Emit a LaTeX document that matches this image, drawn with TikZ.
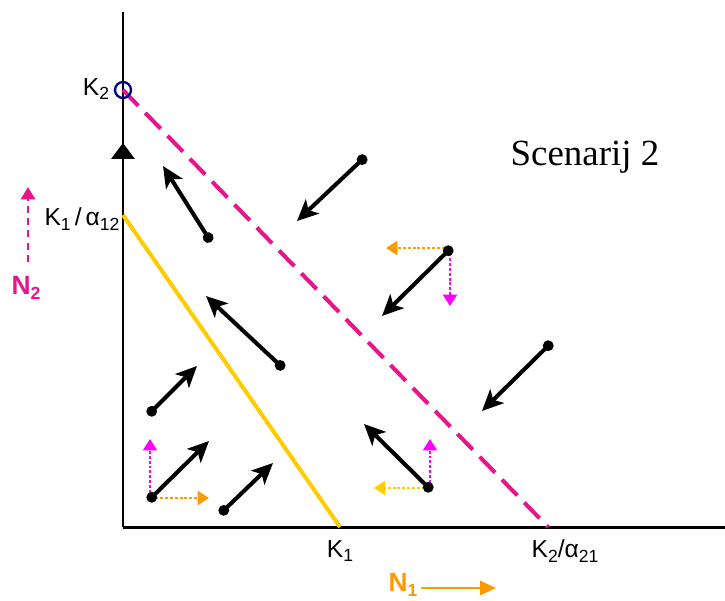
\documentclass[tikz,border=0pt]{standalone}
\usepackage{fontspec}
\setmainfont{Liberation Serif}
\setsansfont{Liberation Sans}
\usetikzlibrary{arrows.meta}
\definecolor{isoTwo}{RGB}{232, 20, 140}
\definecolor{isoOne}{RGB}{255, 204, 0}
\definecolor{dirOne}{RGB}{255, 153, 0}
\definecolor{dirTwo}{RGB}{255, 0, 255}
\definecolor{eqRing}{RGB}{0, 0, 140}
\newcommand{\subl}[2]{#1\raisebox{-0.35ex}{\fontsize{10}{10}\selectfont #2}}
\tikzset{
  axisline/.style={line width=1.7pt},
  flow/.style={line width=2.3pt, {Circle[length=6pt]}-{Stealth[length=12pt,width=11pt,inset=3pt]}},
  comp/.style={line width=1.3pt, dash pattern=on 1.7pt off 1.1pt, -{Triangle[length=6.5pt,width=8pt]}},
  lab/.style={font=\sffamily\fontsize{14}{14}\selectfont}
}

\begin{document}
\begin{tikzpicture}[x=0.02cm, y=-0.02cm]
  \useasboundingbox (0,0) rectangle (725,600);

  \coordinate (origin) at (123,527);
  \coordinate (ytop) at (123,12);
  \coordinate (ymid) at (123,143);
  \coordinate (xend) at (725,527);
  \coordinate (K2pt) at (123,90);
  \coordinate (K1apt) at (123,215);
  \coordinate (K1pt) at (340,527);
  \coordinate (K2apt) at (548,527);

  % axes
  \draw[axisline] (origin) -- (ytop);
  \draw[axisline] (origin) -- (xend);
  \draw[axisline, -{Triangle[length=9pt,width=13pt]}] (origin) -- (ymid);

  % isoclines
  \draw[isoOne, line width=2.3pt] (K1apt) -- (K1pt);
  \draw[isoTwo, line width=2.3pt, dash pattern=on 12.5pt off 5.7pt] (K2pt) -- (K2apt);
  \node[draw=eqRing, circle, line width=1.3pt, minimum size=0.32cm, inner sep=0pt] (eqring) at (K2pt) {};

  % components
  \coordinate (c3o) at (450,248); \coordinate (c3l) at (386,248); \coordinate (c3d) at (450,306);
  \coordinate (c7o) at (150,498); \coordinate (c7u) at (150,439); \coordinate (c7r) at (209,498);
  \coordinate (c9o) at (430,488); \coordinate (c9l) at (374,488); \coordinate (c9u) at (430,439);
  \draw[comp, dirOne] (c3o) -- (c3l);
  \draw[comp, dirTwo] (c3o) -- (c3d);
  \draw[comp, dirTwo] (c7o) -- (c7u);
  \draw[comp, dirOne] (c7o) -- (c7r);
  \draw[comp, isoOne] (c9o) -- (c9l);
  \draw[comp, dirTwo] (c9o) -- (c9u);

  % flow arrows
  \coordinate (a1s) at (366,156); \coordinate (a1e) at (297,221);
  \coordinate (a2s) at (211,242); \coordinate (a2e) at (163,166);
  \coordinate (a3s) at (452,247); \coordinate (a3e) at (382,316);
  \coordinate (a4s) at (284,369); \coordinate (a4e) at (206,296);
  \coordinate (a5s) at (552,342); \coordinate (a5e) at (482,411);
  \coordinate (a6s) at (148,415); \coordinate (a6e) at (197,366);
  \coordinate (a7s) at (148,501); \coordinate (a7e) at (209,441);
  \coordinate (a8s) at (220,514); \coordinate (a8e) at (273,463);
  \coordinate (a9s) at (432,491); \coordinate (a9e) at (364,424);
  \draw[flow] (a1s) -- (a1e);
  \draw[flow] (a2s) -- (a2e);
  \draw[flow] (a3s) -- (a3e);
  \draw[flow] (a4s) -- (a4e);
  \draw[flow] (a5s) -- (a5e);
  \draw[flow] (a6s) -- (a6e);
  \draw[flow] (a7s) -- (a7e);
  \draw[flow] (a8s) -- (a8e);
  \draw[flow] (a9s) -- (a9e);

  % labels
  \node[lab] (k2lab) at (96,89) {\subl{K}{2}};
  \node[lab] (k1alab) at (82,219) {\subl{K}{1}\,/\,\subl{α}{12}};
  \node[lab] (k1lab) at (340,551) {\subl{K}{1}};
  \node[lab] (k2alab) at (565,551) {\subl{K}{2}/\subl{α}{21}};

  \node[font=\sffamily\bfseries\fontsize{15}{15}\selectfont, dirOne] (n1lab) at (403,585) {\subl{N}{1}};
  \coordinate (n1a) at (421,588);
  \coordinate (n1b) at (496,588);
  \draw[dirOne, line width=1.6pt, -{Triangle[length=9pt,width=8pt]}] (n1a) -- (n1b);

  \node[font=\sffamily\bfseries\fontsize{15}{15}\selectfont, isoTwo] (n2lab) at (26,288) {\subl{N}{2}};
  \coordinate (n2a) at (28,262);
  \coordinate (n2b) at (28,187);
  \draw[isoTwo, line width=1.6pt, dash pattern=on 4pt off 3pt, -{Triangle[length=7pt,width=8pt]}] (n2a) -- (n2b);

  \node[font=\fontsize{21}{24}\selectfont] (scen) at (585,157) {Scenarij 2};
\end{tikzpicture}
\end{document}
